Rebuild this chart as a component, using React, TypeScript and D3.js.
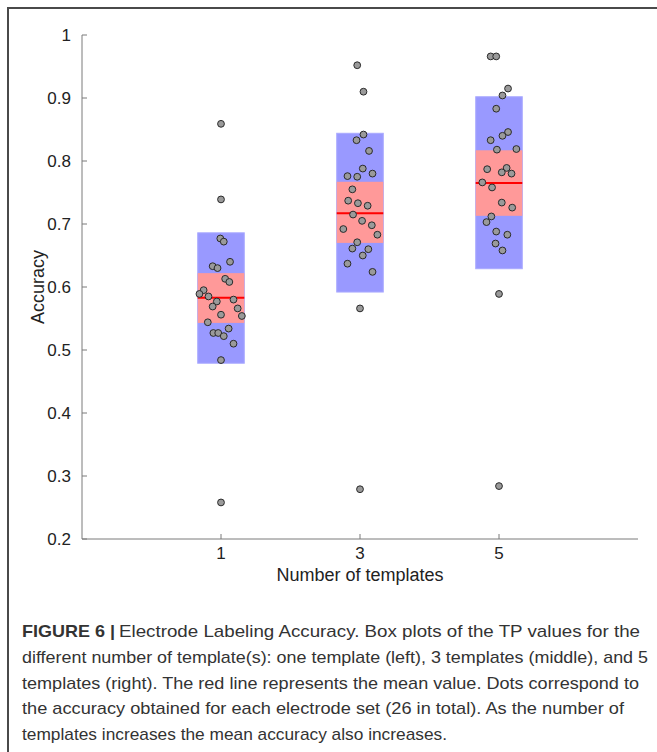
import React from "react";
import * as d3 from "d3";

const categories = [1, 3, 5];
const means = [0.583, 0.717, 0.765];
const ciLow = [0.543, 0.670, 0.713];
const ciHigh = [0.622, 0.767, 0.817];
const sdLow = [0.479, 0.592, 0.629];
const sdHigh = [0.686, 0.844, 0.902];

const acc1 = [0.859, 0.739, 0.677, 0.672, 0.640, 0.633, 0.630, 0.613, 0.608, 0.595, 0.589, 0.585, 0.577, 0.580, 0.569, 0.566, 0.554, 0.556, 0.544, 0.534, 0.527, 0.527, 0.522, 0.510, 0.484, 0.258];
const jit1 = [0.00, 0.00, -0.01, 0.04, 0.13, -0.12, -0.05, 0.06, 0.12, -0.25, -0.31, -0.18, -0.06, 0.18, -0.12, 0.24, 0.30, 0.00, -0.19, 0.11, -0.11, -0.04, 0.04, 0.18, 0.00, 0.00];
const acc3 = [0.952, 0.910, 0.842, 0.833, 0.816, 0.788, 0.780, 0.776, 0.775, 0.755, 0.737, 0.733, 0.729, 0.715, 0.705, 0.698, 0.692, 0.683, 0.671, 0.661, 0.660, 0.650, 0.637, 0.624, 0.566, 0.279];
const jit3 = [-0.04, 0.05, 0.05, -0.05, 0.13, 0.04, 0.18, -0.18, -0.04, -0.11, -0.17, -0.03, 0.11, -0.10, 0.03, 0.17, -0.24, 0.25, -0.04, -0.11, 0.12, 0.04, -0.18, 0.18, 0.00, 0.00];
const acc5 = [0.966, 0.966, 0.915, 0.904, 0.883, 0.846, 0.840, 0.833, 0.818, 0.819, 0.787, 0.789, 0.782, 0.780, 0.766, 0.758, 0.734, 0.726, 0.712, 0.703, 0.688, 0.683, 0.669, 0.658, 0.589, 0.284];
const jit5 = [-0.12, -0.04, 0.13, 0.05, -0.04, 0.13, 0.05, -0.12, -0.03, 0.25, -0.17, 0.11, 0.04, 0.18, -0.24, -0.10, 0.04, 0.19, -0.11, -0.18, -0.04, 0.12, -0.05, 0.05, 0.00, 0.00];

const accuracies = [acc1, acc3, acc5];
const jitters = [jit1, jit3, jit5];

const yTicks = [0.2, 0.3, 0.4, 0.5, 0.6, 0.7, 0.8, 0.9, 1.0];
const xTicks = [1, 3, 5];

const captionLines = [
  "different number of template(s): one template (left), 3 templates (middle), and 5",
  "templates (right). The red line represents the mean value. Dots correspond to",
  "the accuracy obtained for each electrode set (26 in total). As the number of",
  "templates increases the mean accuracy also increases.",
];
const captionEnds = [648, 639, 624, 447];

export default function App() {
  const W = 657, H = 752;
  const x = d3.scaleLinear().domain([-1, 7]).range([82, 638]);
  const y = d3.scaleLinear().domain([0.2, 1]).range([539, 35]);
  const halfW = 0.335;
  const axisColor = "#7a7a7a";
  const font = "'Liberation Sans', Arial, Helvetica, sans-serif";
  const textColor = "#222";

  return (
    <svg width={W} height={H} style={{ position: "absolute", left: 0, top: 0, background: "#fff" }}>
      <rect x={8} y={8} width={700} height={800} fill="none" stroke="#4a4a4a" strokeWidth={2} />
      {categories.map((c, i) => (
        <g key={"b" + c}>
          <rect x={x(c - halfW)} y={y(sdHigh[i])} width={x(c + halfW) - x(c - halfW)} height={y(sdLow[i]) - y(sdHigh[i])} fill="#9999ff" stroke="#aaaaff" strokeWidth={1} />
          <rect x={x(c - halfW)} y={y(ciHigh[i])} width={x(c + halfW) - x(c - halfW)} height={y(ciLow[i]) - y(ciHigh[i])} fill="#ff9999" />
          <line x1={x(c - halfW)} x2={x(c + halfW)} y1={y(means[i])} y2={y(means[i])} stroke="#ff0000" strokeWidth={2} />
        </g>
      ))}
      {categories.map((c, i) => (
        <g key={"d" + c}>
          {accuracies[i].map((v, j) => (
            <circle key={j} cx={x(c + jitters[i][j])} cy={y(v)} r={3.4} fill="#9a9a9a" stroke="#2a2a2a" strokeWidth={1} />
          ))}
        </g>
      ))}
      <line x1={x(-1)} x2={x(-1)} y1={y(1)} y2={y(0.2)} stroke={axisColor} strokeWidth={1} />
      <line x1={x(-1)} x2={x(7)} y1={y(0.2)} y2={y(0.2)} stroke={axisColor} strokeWidth={1} />
      {yTicks.map((t) => (
        <g key={"yt" + t}>
          <line x1={x(-1)} x2={x(-1) + 5} y1={y(t)} y2={y(t)} stroke={axisColor} strokeWidth={1} />
          <text x={71} y={y(t)} dy="0.35em" textAnchor="end" fontFamily={font} fontSize={17} fill={textColor}>
            {d3.format("~g")(t)}
          </text>
        </g>
      ))}
      {xTicks.map((t) => (
        <g key={"xt" + t}>
          <line x1={x(t)} x2={x(t)} y1={y(0.2)} y2={y(0.2) - 5} stroke={axisColor} strokeWidth={1} />
          <text x={x(t)} y={559} textAnchor="middle" fontFamily={font} fontSize={17} fill={textColor}>
            {t}
          </text>
        </g>
      ))}
      <text x={x(3)} y={581} textAnchor="middle" fontFamily={font} fontSize={18} fill={textColor}>
        Number of templates
      </text>
      <text transform={`translate(44, ${y(0.6)}) rotate(-90)`} textAnchor="middle" fontFamily={font} fontSize={18} fill={textColor}>
        Accuracy
      </text>
      <text x={22} y={637} fontFamily={font} fontSize={17} fontWeight="bold" fill="#333" textLength={93} lengthAdjust="spacingAndGlyphs">
        FIGURE 6 |
      </text>
      <text x={119} y={637} fontFamily={font} fontSize={17} fill="#333" textLength={640 - 119} lengthAdjust="spacingAndGlyphs">
        Electrode Labeling Accuracy. Box plots of the TP values for the
      </text>
      {captionLines.map((l, i) => (
        <text key={i} x={22} y={663 + i * 25.5} fontFamily={font} fontSize={17} fill="#333" textLength={captionEnds[i] - 22} lengthAdjust="spacingAndGlyphs">
          {l}
        </text>
      ))}
    </svg>
  );
}
